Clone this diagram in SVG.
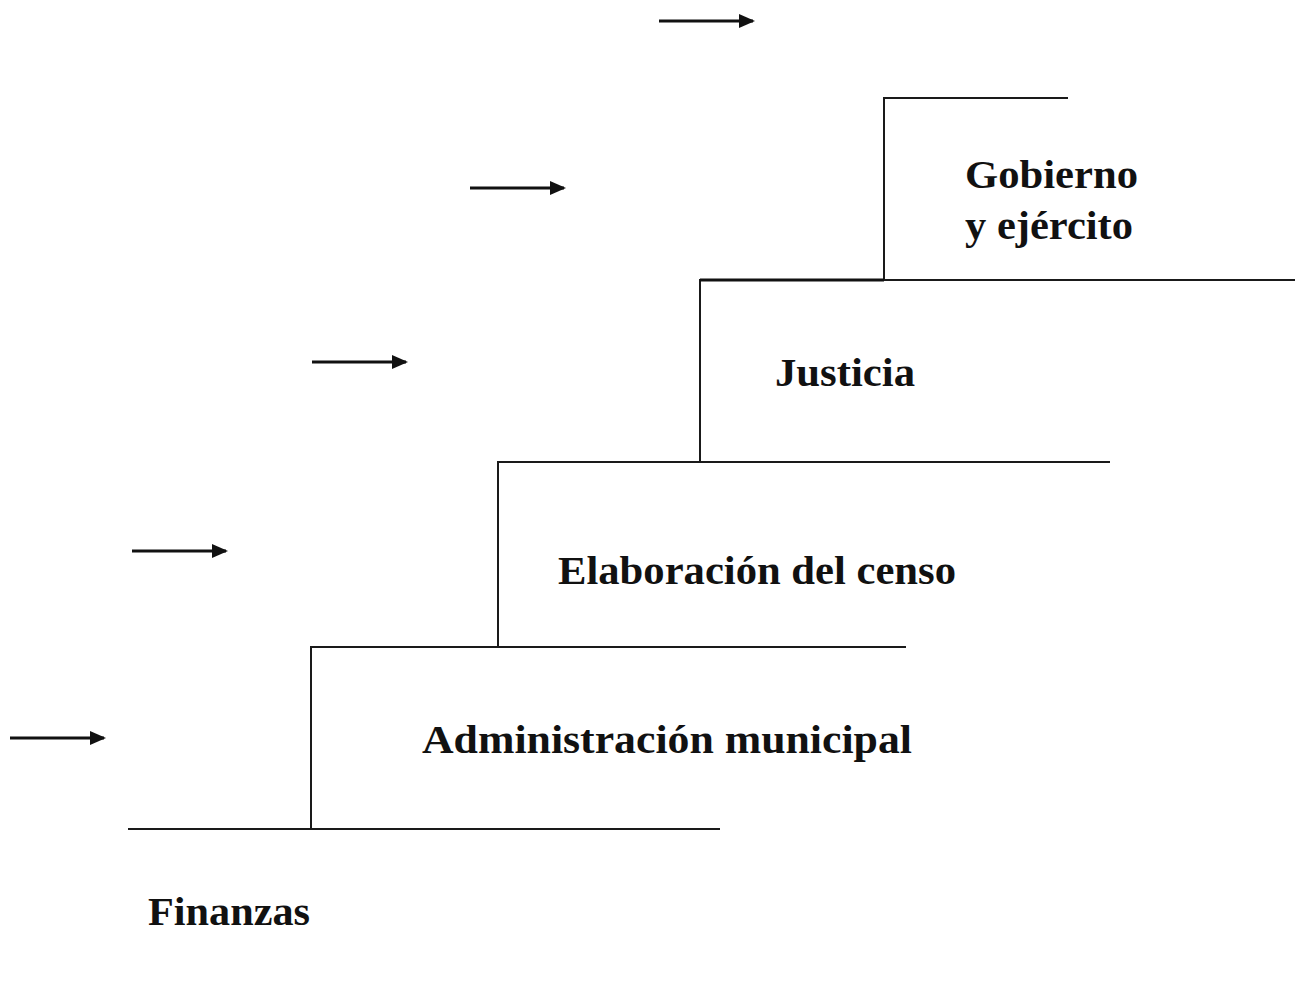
<svg xmlns="http://www.w3.org/2000/svg" width="1304" height="992" viewBox="0 0 1304 992">
<style>
.ln{stroke:#1a1a1a;stroke-width:2;fill:none}
.ar{stroke:#111;stroke-width:3;fill:none;marker-end:url(#ah)}
.t{font-family:"Liberation Serif","DejaVu Serif",serif;font-weight:bold;font-size:41px;fill:#111}
</style>
<defs>
<marker id="ah" markerWidth="16" markerHeight="14" refX="14" refY="7" orient="auto" markerUnits="userSpaceOnUse">
<path d="M0,0 L16,7 L0,14 Z" fill="#111"/>
</marker>
</defs>
<rect width="1304" height="992" fill="#fff"/>
<g id="connectors">
<line class="ar" x1="659" y1="21" x2="753" y2="21"/>
<line class="ar" x1="470" y1="188" x2="564" y2="188"/>
<line class="ar" x1="312" y1="362" x2="406" y2="362"/>
<line class="ar" x1="132" y1="551" x2="226" y2="551"/>
<line class="ar" x1="10" y1="738" x2="104" y2="738"/>
</g>
<g id="steps">
<path class="ln" d="M128,829 H720 M311,829 V647 H906 M498,647 V462 H1110 M700,462 V280 H1295 M884,280 V98 H1068"/>
<line x1="700" y1="280" x2="884" y2="280" stroke="#111" stroke-width="3"/>
</g>
<g id="gobierno"><text class="t" x="965" y="188" textLength="173" lengthAdjust="spacingAndGlyphs">Gobierno</text>
<text class="t" x="965" y="239" textLength="168" lengthAdjust="spacingAndGlyphs">y ejército</text></g>
<g id="justicia"><text class="t" x="775" y="386" textLength="140" lengthAdjust="spacingAndGlyphs">Justicia</text></g>
<g id="censo"><text class="t" x="558" y="584" textLength="398" lengthAdjust="spacingAndGlyphs">Elaboración del censo</text></g>
<g id="municipal"><text class="t" x="422" y="753" textLength="490" lengthAdjust="spacingAndGlyphs">Administración municipal</text></g>
<g id="finanzas"><text class="t" x="148" y="925" textLength="162" lengthAdjust="spacingAndGlyphs">Finanzas</text></g>
</svg>
